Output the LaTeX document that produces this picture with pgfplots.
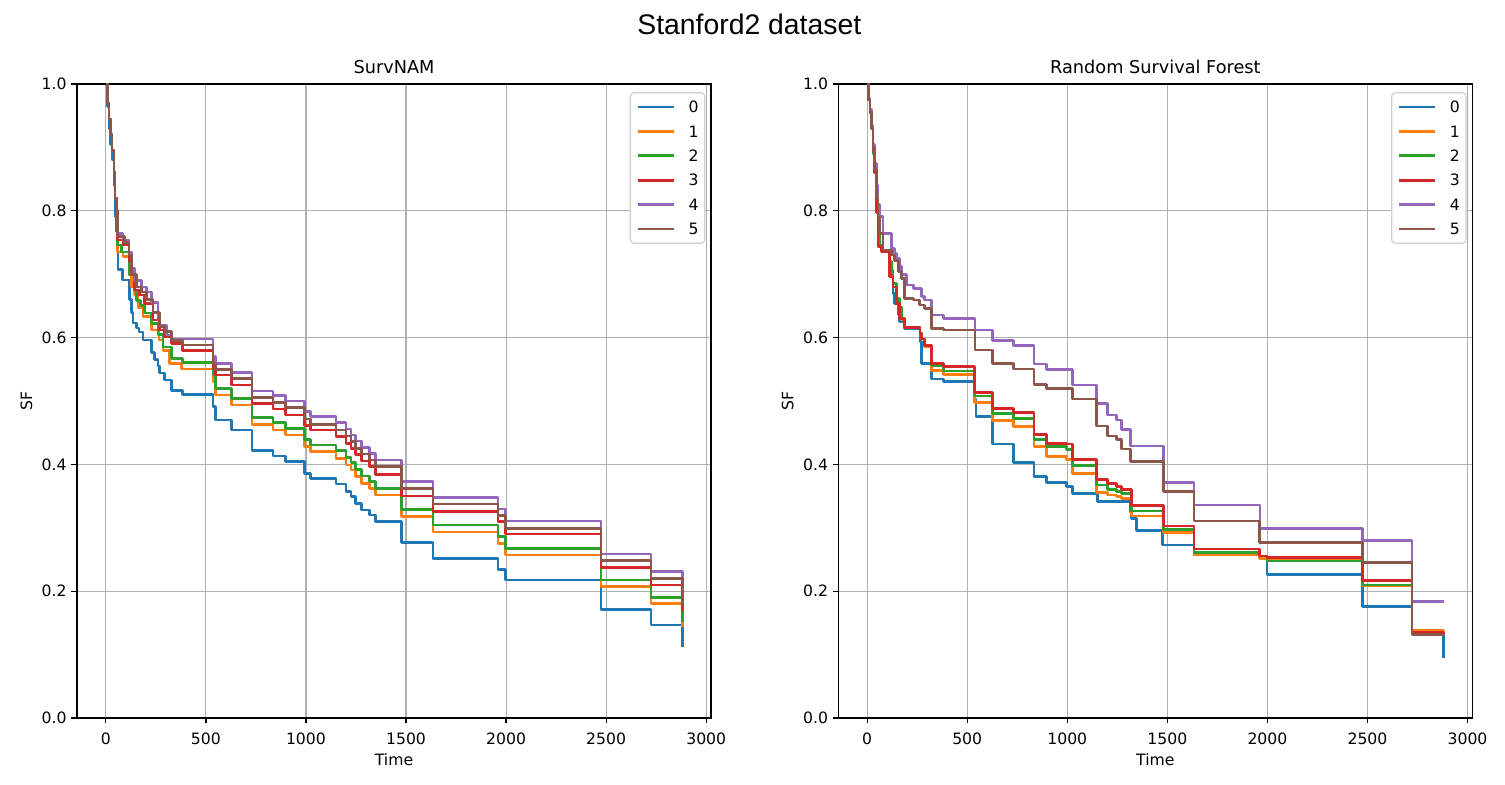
\documentclass[border=0pt]{standalone}
\usepackage{fontspec}
\setmainfont{DejaVu Sans}
\newfontfamily\titlefont{Liberation Sans}
\usepackage{pgfplots}
\pgfplotsset{compat=1.18}
\definecolor{c0}{HTML}{1F77B4}
\definecolor{c1}{HTML}{FF7F0E}
\definecolor{c2}{HTML}{2CA02C}
\definecolor{c3}{HTML}{D62728}
\definecolor{c4}{HTML}{9467BD}
\definecolor{c5}{HTML}{8C564B}
\definecolor{gridgray}{HTML}{B0B0B0}
\definecolor{leggray}{HTML}{D0D0D0}
\pgfplotsset{
 myax/.style={
  scale only axis, width=456.48bp, height=456.48bp,
  xmin=-144, xmax=3024, ymin=0, ymax=1,
  xtick={0,500,1000,1500,2000,2500,3000},
  ytick={0,0.2,0.4,0.6,0.8,1.0},
  scaled ticks=false,
  grid=major,
  major grid style={draw=gridgray, line width=0.8bp},
  axis line style={line width=0.9bp},
  every tick/.style={black, line width=0.9bp},
  major tick length=3.96bp,
  tick align=outside, tick pos=left,
  /pgf/number format/assume math mode=true,
  ticklabel style={font=\fontsize{11.3}{13.6}\selectfont},
  xticklabel style={/pgf/number format/1000 sep={}},
  xticklabel shift=3bp,
  yticklabel style={/pgf/number format/fixed, /pgf/number format/fixed zerofill, /pgf/number format/precision=1},
  label style={font=\fontsize{11.3}{13.6}\selectfont},
  xlabel={Time}, ylabel={SF},
  title style={font=\fontsize{12.8}{15}\selectfont, anchor=base, yshift=1.8bp},
  legend style={at={(0.991,0.987)}, anchor=north east, draw=leggray, line width=0.9bp,
    rounded corners=2.5bp, fill=white,
    font=\fontsize{11.3}{13.6}\selectfont, inner xsep=4.4bp, inner ysep=6bp,
    row sep=9.4bp, cells={anchor=west},
    nodes={inner sep=0pt, text height=8.2bp, text depth=0pt}},
  legend image code/.code={\draw[#1, line width=1.9bp] (0bp,0bp) -- (26bp,0bp); \path (35.7bp,0bp);},
  every axis plot/.append style={line width=1.9bp, line join=round},
 }
}
\begin{document}
\begin{tikzpicture}
\path[use as bounding box] (0,0) rectangle (1083.6bp,564.48bp);
\node[font=\titlefont\fontsize{20.5}{24}\selectfont, anchor=base] at (539.5bp,539.3bp) {Stanford2 dataset};
\begin{axis}[myax, at={(55.44bp,47.52bp)}, anchor=south west, title={SurvNAM}]
\addplot[const plot, c0] coordinates {(0,1.0) (8,0.965) (15,0.93) (22,0.905) (30,0.88) (40,0.84) (46,0.79) (52,0.767) (61,0.707) (82,0.691) (119,0.66) (127,0.64) (135,0.623) (152,0.615) (166,0.609) (186,0.596) (227,0.576) (244,0.565) (260,0.555) (269,0.544) (294,0.533) (327,0.517) (382,0.5105) (535,0.491) (548,0.470) (627,0.4543) (730,0.4216) (835,0.4132) (898,0.4043) (993,0.386) (1023,0.378) (1151,0.369) (1201,0.357) (1226,0.349) (1248,0.3386) (1276,0.328) (1318,0.320) (1348,0.3097) (1478,0.2766) (1634,0.252) (1960,0.2345) (1997,0.2177) (2475,0.1714) (2725,0.1467) (2880,0.1125)};
\addplot[const plot, c1] coordinates {(0,1.0) (8,0.97) (15,0.945) (22,0.92) (30,0.895) (40,0.86) (46,0.82) (52,0.80) (58,0.735) (85,0.728) (115,0.70) (127,0.68) (144,0.667) (160,0.647) (186,0.633) (227,0.612) (265,0.596) (285,0.58) (319,0.559) (377,0.5505) (535,0.5305) (548,0.5095) (627,0.4937) (730,0.4632) (835,0.4543) (898,0.4464) (993,0.428) (1023,0.42) (1151,0.4096) (1201,0.399) (1226,0.391) (1248,0.3806) (1276,0.370) (1318,0.3623) (1348,0.3517) (1478,0.3175) (1634,0.2935) (1960,0.2755) (1997,0.257) (2475,0.2071) (2725,0.181) (2880,0.143)};
\addplot[const plot, c2] coordinates {(0,1.0) (8,0.97) (15,0.945) (22,0.92) (30,0.895) (40,0.86) (46,0.82) (52,0.80) (58,0.746) (77,0.735) (115,0.70) (144,0.675) (152,0.659) (172,0.651) (194,0.639) (227,0.6225) (260,0.605) (285,0.585) (327,0.567) (382,0.5605) (535,0.541) (548,0.52) (627,0.504) (730,0.474) (835,0.4658) (898,0.457) (993,0.4396) (1023,0.4306) (1151,0.4216) (1201,0.411) (1226,0.4027) (1248,0.3922) (1276,0.3817) (1318,0.3727) (1348,0.3623) (1478,0.329) (1634,0.3044) (1960,0.286) (1997,0.2676) (2475,0.2177) (2725,0.190) (2880,0.152)};
\addplot[const plot, c3] coordinates {(0,1.0) (8,0.97) (15,0.945) (22,0.92) (30,0.895) (40,0.86) (46,0.82) (52,0.80) (58,0.754) (85,0.746) (115,0.72) (127,0.70) (144,0.675) (169,0.667) (194,0.654) (235,0.628) (269,0.612) (294,0.6015) (327,0.591) (382,0.5794) (535,0.5515) (548,0.541) (627,0.525) (730,0.4963) (835,0.4874) (898,0.478) (993,0.461) (1023,0.4543) (1151,0.4437) (1201,0.4333) (1226,0.4254) (1248,0.416) (1276,0.4054) (1318,0.3964) (1348,0.3844) (1478,0.350) (1634,0.3254) (1960,0.3097) (1997,0.290) (2475,0.2377) (2725,0.2098) (2880,0.169)};
\addplot[const plot, c4] coordinates {(0,1.0) (8,0.97) (15,0.945) (22,0.92) (30,0.895) (40,0.86) (46,0.82) (52,0.80) (58,0.7645) (85,0.754) (115,0.735) (127,0.71) (144,0.69) (177,0.68) (202,0.672) (227,0.6555) (260,0.63) (269,0.62) (302,0.604) (327,0.598) (535,0.57) (548,0.5594) (627,0.5453) (730,0.5158) (835,0.5084) (898,0.50) (993,0.4832) (1023,0.4753) (1151,0.4658) (1201,0.4558) (1226,0.4464) (1248,0.4369) (1276,0.427) (1318,0.4175) (1348,0.407) (1478,0.3727) (1634,0.348) (1960,0.3297) (1997,0.3107) (2475,0.2587) (2725,0.2308) (2880,0.186)};
\addplot[const plot, c5] coordinates {(0,1.0) (8,0.97) (15,0.945) (22,0.92) (30,0.895) (40,0.86) (46,0.82) (52,0.80) (58,0.759) (94,0.75) (115,0.73) (127,0.70) (152,0.68) (177,0.672) (202,0.66) (235,0.64) (269,0.617) (294,0.61) (327,0.595) (382,0.5883) (535,0.5594) (548,0.55) (627,0.5358) (730,0.5058) (835,0.4974) (898,0.4895) (993,0.4716) (1023,0.4632) (1151,0.4543) (1201,0.4448) (1226,0.4358) (1248,0.4254) (1276,0.4164) (1318,0.407) (1348,0.3964) (1478,0.3623) (1634,0.3375) (1960,0.319) (1997,0.2992) (2475,0.248) (2725,0.2203) (2880,0.178)};
\legend{0,1,2,3,4,5}
\end{axis}
\begin{axis}[myax, at={(603.6bp,47.52bp)}, anchor=south west, title={Random Survival Forest}]
\addplot[const plot, c0] coordinates {(0,1.0) (8,0.975) (15,0.955) (22,0.93) (30,0.89) (38,0.86) (47,0.80) (55,0.76) (63,0.745) (72,0.7355) (113,0.7066) (130,0.670) (138,0.654) (155,0.6356) (163,0.625) (188,0.6146) (264,0.5936) (272,0.5594) (322,0.5347) (380,0.5305) (536,0.503) (543,0.4753) (625,0.4322) (730,0.4027) (833,0.3806) (897,0.3712) (997,0.3648) (1027,0.3544) (1150,0.341) (1313,0.325) (1322,0.315) (1347,0.2955) (1477,0.2729) (1633,0.257) (1960,0.2555) (1997,0.2266) (2475,0.1756) (2722,0.1336) (2880,0.094)};
\addplot[const plot, c1] coordinates {(0,1.0) (8,0.975) (15,0.955) (22,0.93) (30,0.89) (38,0.86) (47,0.805) (55,0.765) (63,0.745) (72,0.7355) (113,0.72) (122,0.70) (130,0.68) (147,0.66) (163,0.645) (172,0.628) (188,0.616) (264,0.607) (272,0.598) (288,0.585) (322,0.548) (380,0.542) (535,0.4973) (625,0.469) (730,0.4595) (833,0.428) (897,0.4122) (997,0.408) (1027,0.386) (1147,0.3554) (1200,0.352) (1247,0.349) (1272,0.346) (1320,0.3186) (1480,0.2923) (1633,0.257) (1960,0.252) (1997,0.249) (2475,0.2087) (2722,0.1377) (2880,0.134)};
\addplot[const plot, c2] coordinates {(0,1.0) (8,0.975) (15,0.955) (22,0.93) (30,0.89) (38,0.86) (47,0.805) (55,0.765) (63,0.745) (72,0.7355) (113,0.72) (122,0.70) (130,0.685) (147,0.662) (163,0.648) (172,0.63) (188,0.616) (264,0.607) (272,0.598) (288,0.588) (322,0.556) (380,0.5473) (535,0.508) (625,0.4806) (730,0.4727) (833,0.4396) (897,0.428) (997,0.4238) (1027,0.398) (1147,0.3675) (1200,0.3607) (1247,0.357) (1272,0.354) (1320,0.3265) (1480,0.2976) (1633,0.2608) (1960,0.2555) (1997,0.2476) (2475,0.2098) (2722,0.135) (2880,0.132)};
\addplot[const plot, c3] coordinates {(0,1.0) (8,0.975) (15,0.955) (22,0.93) (30,0.895) (38,0.86) (47,0.797) (55,0.7435) (72,0.7355) (113,0.696) (130,0.680) (147,0.654) (163,0.63) (188,0.616) (264,0.6067) (272,0.598) (288,0.588) (322,0.5594) (380,0.554) (535,0.5135) (625,0.4885) (730,0.4816) (833,0.4475) (897,0.4333) (997,0.432) (1027,0.408) (1147,0.3765) (1200,0.370) (1247,0.365) (1272,0.3607) (1320,0.3349) (1480,0.3028) (1633,0.2666) (1960,0.2555) (1997,0.2529) (2475,0.2166) (2722,0.1346) (2880,0.133)};
\addplot[const plot, c4] coordinates {(0,1.0) (8,0.978) (15,0.96) (22,0.935) (30,0.905) (38,0.875) (47,0.84) (55,0.81) (63,0.7907) (80,0.7645) (122,0.7408) (138,0.733) (147,0.725) (163,0.712) (172,0.70) (197,0.683) (230,0.6777) (272,0.6646) (288,0.6593) (322,0.6356) (380,0.6304) (538,0.612) (625,0.5952) (730,0.5873) (833,0.5584) (897,0.55) (1027,0.5252) (1147,0.4963) (1200,0.478) (1247,0.470) (1272,0.4553) (1317,0.429) (1480,0.3712) (1633,0.336) (1963,0.2992) (2475,0.2797) (2722,0.1835) (2880,0.1835)};
\addplot[const plot, c5] coordinates {(0,1.0) (8,0.975) (15,0.955) (22,0.93) (30,0.9) (38,0.865) (47,0.82) (55,0.79) (63,0.7645) (80,0.738) (122,0.730) (138,0.722) (155,0.704) (172,0.6935) (188,0.662) (230,0.6593) (263,0.6514) (288,0.646) (322,0.6146) (380,0.612) (538,0.5804) (625,0.5594) (730,0.5505) (833,0.5263) (897,0.52) (1027,0.5032) (1147,0.4606) (1200,0.4448) (1247,0.4395) (1272,0.4243) (1317,0.4043) (1480,0.357) (1633,0.3107) (1960,0.277) (2475,0.2456) (2722,0.132) (2880,0.131)};
\legend{0,1,2,3,4,5}
\end{axis}
\end{tikzpicture}
\end{document}
